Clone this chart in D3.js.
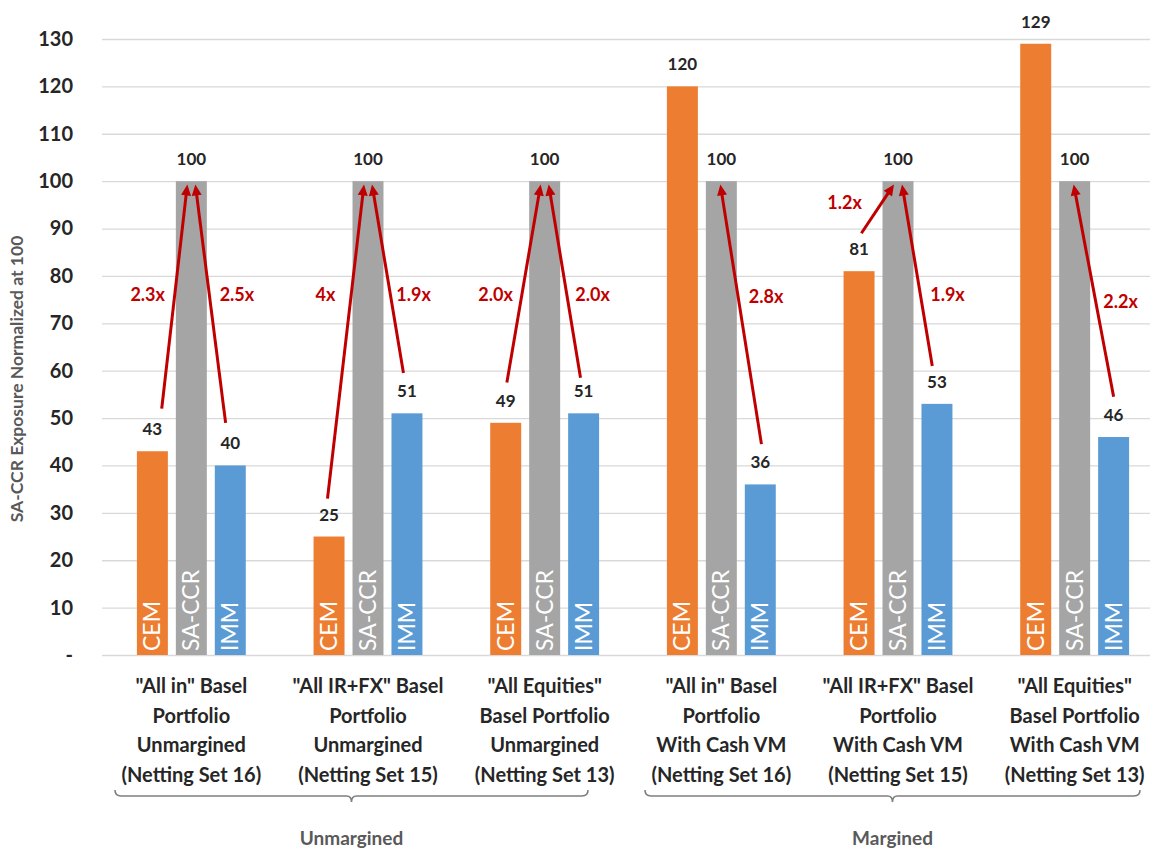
<!DOCTYPE html>
<html>
<head>
<meta charset="utf-8">
<script src="https://cdn.jsdelivr.net/npm/d3@7"></script>
<style>
    body { margin: 0; background: #fff; }
    svg text { font-family: Lato, "Open Sans", sans-serif; }
</style>
</head>
<body>
<div id="chart"></div>
<script>
const groupLabels = [
    ["\"All in\" Basel", "Portfolio", "Unmargined", "(Netting Set 16)"],
    ["\"All IR+FX\" Basel", "Portfolio", "Unmargined", "(Netting Set 15)"],
    ["\"All Equities\"", "Basel Portfolio", "Unmargined", "(Netting Set 13)"],
    ["\"All in\" Basel", "Portfolio", "With Cash VM", "(Netting Set 16)"],
    ["\"All IR+FX\" Basel", "Portfolio", "With Cash VM", "(Netting Set 15)"],
    ["\"All Equities\"", "Basel Portfolio", "With Cash VM", "(Netting Set 13)"]
];
const series = ["CEM", "SA-CCR", "IMM"];
const cemValues = [43, 25, 49, 120, 81, 129];
const saccrValues = [100, 100, 100, 100, 100, 100];
const immValues = [40, 51, 51, 36, 53, 46];
const yTicks = [0, 10, 20, 30, 40, 50, 60, 70, 80, 90, 100, 110, 120, 130];

// multiplier arrows: tail value, where the tail sits (in bar steps from SA-CCR), label
const arrows = [
    { group: 0, tail: 52, tailPos: -0.76, label: "2.3x", labelValue: 76, labelPos: -1.12 },
    { group: 0, tail: 49, tailPos: 0.88, label: "2.5x", labelValue: 76, labelPos: 1.17 },
    { group: 1, tail: 33, tailPos: -1.04, label: "4x", labelValue: 76, labelPos: -1.09 },
    { group: 1, tail: 59.5, tailPos: 0.91, label: "1.9x", labelValue: 76, labelPos: 1.17 },
    { group: 2, tail: 57.5, tailPos: -0.97, label: "2.0x", labelValue: 76, labelPos: -1.26 },
    { group: 2, tail: 58.5, tailPos: 0.92, label: "2.0x", labelValue: 76, labelPos: 1.23 },
    { group: 3, tail: 44.5, tailPos: 1.03, label: "2.8x", labelValue: 75.5, labelPos: 1.15 },
    { group: 4, tail: 89, tailPos: -0.94, label: "1.2x", labelValue: 95.4, labelPos: -1.37 },
    { group: 4, tail: 61, tailPos: 0.88, label: "1.9x", labelValue: 76, labelPos: 1.27 },
    { group: 5, tail: 54.5, tailPos: 1.0, label: "2.2x", labelValue: 74.5, labelPos: 1.18 }
];
const sections = [
    { name: "Unmargined", from: 0, to: 2 },
    { name: "Margined", from: 3, to: 5 }
];

const width = 1153;
const height = 850;
const margin = { top: 39, right: -10, bottom: 195, left: 103 };
const colors = { "CEM": "#ED7D31", "SA-CCR": "#A5A5A5", "IMM": "#5B9BD5" };
const red = "#C00000";

const table = groupLabels.map((g, i) => ({
    group: i,
    values: [cemValues[i], saccrValues[i], immValues[i]]
}));

const svg = d3.create("svg")
    .attr("width", width)
    .attr("height", height);

const x0 = d3.scaleBand()
    .domain(d3.range(groupLabels.length))
    .range([margin.left, width - margin.right])
    .padding(0);

const x1 = d3.scaleBand()
    .domain(series)
    .range([0, x0.bandwidth()])
    .paddingInner(0.205)
    .paddingOuter(0.87);

const y = d3.scaleLinear()
    .domain([0, 130])
    .range([height - margin.bottom, margin.top]);

const step = x1.step();
const saCenter = g => x0(g) + x1("SA-CCR") + x1.bandwidth() / 2;

// gridlines + y axis
svg.append("g")
    .attr("transform", `translate(${margin.left - 1},0)`)
    .call(d3.axisLeft(y)
        .tickValues(yTicks)
        .tickSize(-(1150 - margin.left + 1))
        .tickPadding(29)
        .tickFormat(d => d === 0 ? "-" : d))
    .call(g => g.select(".domain").remove())
    .call(g => g.selectAll(".tick line").attr("stroke", "#D9D9D9").attr("stroke-width", 1.3))
    .call(g => g.selectAll(".tick text")
        .attr("fill", "#262626")
        .attr("font-size", "20px")
        .attr("font-weight", "bold"));

svg.append("text")
    .attr("transform", `translate(23,${(y(0) + y(130)) / 2 + 32}) rotate(-90)`)
    .attr("text-anchor", "middle")
    .attr("fill", "#595959")
    .attr("font-size", "17.5px")
    .attr("font-weight", "bold")
    .text("SA-CCR Exposure Normalized at 100");

// bars
const groups = svg.append("g")
    .selectAll("g")
    .data(table)
    .join("g")
    .attr("transform", d => `translate(${x0(d.group)},0)`);

const cells = groups.selectAll("g")
    .data(d => d.values.map((v, i) => ({ key: series[i], value: v })))
    .join("g");

cells.append("rect")
    .attr("x", d => x1(d.key))
    .attr("y", d => y(d.value))
    .attr("width", x1.bandwidth())
    .attr("height", d => y(0) - y(d.value))
    .attr("fill", d => colors[d.key]);

cells.append("text")
    .attr("x", d => x1(d.key) + x1.bandwidth() / 2)
    .attr("y", d => y(d.value) - 16)
    .attr("text-anchor", "middle")
    .attr("fill", "#262626")
    .attr("font-size", "17px")
    .attr("font-weight", "bold")
    .text(d => d.value);

cells.append("text")
    .attr("transform", d => `translate(${x1(d.key) + x1.bandwidth() / 2 + 8},${y(0) - 4}) rotate(-90)`)
    .attr("fill", "#fff")
    .attr("font-size", "23px")
    .text(d => d.key);

// arrows
const arrowG = svg.append("g");
arrows.forEach(a => {
    const cx = saCenter(a.group);
    const paired = arrows.filter(b => b.group === a.group).length > 1;
    const hx = cx + (paired ? Math.sign(a.tailPos) * 4 : -1);
    const hy = y(99.3);
    const tx = cx + a.tailPos * step;
    const ty = y(a.tail);
    const dx = hx - tx, dy = hy - ty;
    const len = Math.hypot(dx, dy);
    const ux = dx / len, uy = dy / len;
    const headLen = 11, headW = 5;
    const bx = hx - ux * headLen, by = hy - uy * headLen;
    arrowG.append("line")
        .attr("x1", tx).attr("y1", ty)
        .attr("x2", hx - ux * (headLen - 2)).attr("y2", hy - uy * (headLen - 2))
        .attr("stroke", red)
        .attr("stroke-width", 3);
    arrowG.append("path")
        .attr("d", `M${hx},${hy}L${bx - uy * headW},${by + ux * headW}L${bx + uy * headW},${by - ux * headW}Z`)
        .attr("fill", red);
    arrowG.append("text")
        .attr("x", cx + a.labelPos * step)
        .attr("y", y(a.labelValue) + 6)
        .attr("text-anchor", "middle")
        .attr("fill", red)
        .attr("font-size", "18px")
        .attr("font-weight", "bold")
        .text(a.label);
});

// category labels
const catG = svg.append("g")
    .selectAll("text")
    .data(groupLabels)
    .join("text")
    .attr("x", (d, i) => saCenter(i))
    .attr("y", 693)
    .attr("text-anchor", "middle")
    .attr("fill", "#262626")
    .attr("font-size", "20px")
    .attr("font-weight", "bold");

catG.selectAll("tspan")
    .data(d => d)
    .join("tspan")
    .attr("x", function () { return this.parentNode.getAttribute("x"); })
    .attr("dy", (d, i) => i === 0 ? 0 : 29.5)
    .text(d => d);

// section brackets
const insets = [[12, -45], [12, -23]];
sections.forEach((s, i) => {
    const xa = x0(s.from) + insets[i][0];
    const xb = x0(s.to) + x0.bandwidth() + insets[i][1];
    const xm = (xa + xb) / 2;
    const yb = 796;
    svg.append("path")
        .attr("d", `M${xa},${yb - 6}Q${xa},${yb} ${xa + 6},${yb}L${xm - 5},${yb}Q${xm},${yb} ${xm},${yb + 6}Q${xm},${yb} ${xm + 5},${yb}L${xb - 6},${yb}Q${xb},${yb} ${xb},${yb - 6}`)
        .attr("fill", "none")
        .attr("stroke", "#7F7F7F")
        .attr("stroke-width", 1.6);
    svg.append("text")
        .attr("x", xm)
        .attr("y", 845)
        .attr("text-anchor", "middle")
        .attr("fill", "#595959")
        .attr("font-size", "19px")
        .attr("font-weight", "bold")
        .text(s.name);
});

d3.select("#chart").node().append(svg.node());
</script>
</body>
</html>
